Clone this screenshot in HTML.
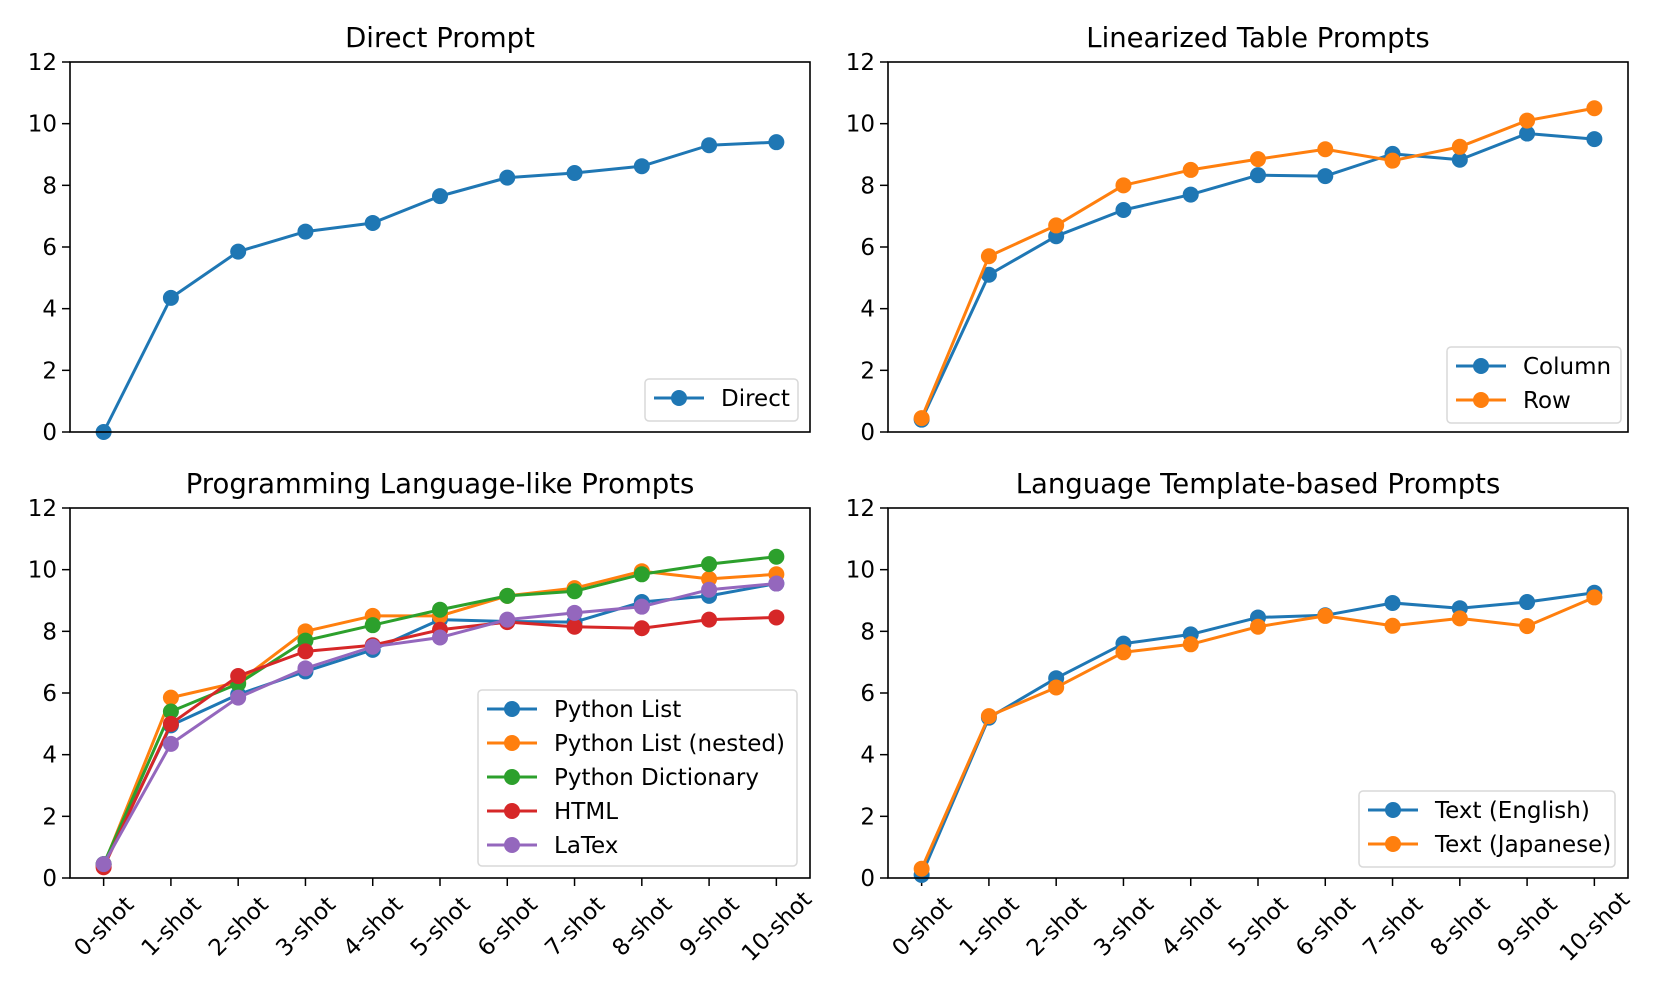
<!DOCTYPE html>
<html><head><meta charset="utf-8"><style>
html,body{margin:0;padding:0;background:#fff;}
svg{display:block;font-family:"DejaVu Sans","Liberation Sans",sans-serif;}
</style></head><body>
<svg id="fig" width="1661" height="997" viewBox="0 0 1661 997" xmlns="http://www.w3.org/2000/svg"></svg>
<script>
const categories = ["0-shot","1-shot","2-shot","3-shot","4-shot","5-shot","6-shot","7-shot","8-shot","9-shot","10-shot"];
const yTicks = [0,2,4,6,8,10,12];
const directVals = [0,4.35,5.85,6.5,6.78,7.65,8.25,8.4,8.62,9.3,9.4];
const columnVals = [0.4,5.1,6.35,7.2,7.7,8.33,8.3,9.02,8.83,9.68,9.5];
const rowVals = [0.45,5.7,6.7,8.0,8.5,8.85,9.17,8.8,9.25,10.1,10.5];
const pyListVals = [0.45,4.95,5.95,6.7,7.4,8.38,8.32,8.3,8.95,9.15,9.55];
const pyNestedVals = [0.4,5.85,6.35,8.0,8.5,8.5,9.15,9.4,9.95,9.7,9.85];
const pyDictVals = [0.45,5.4,6.3,7.7,8.2,8.7,9.15,9.3,9.85,10.18,10.42];
const htmlVals = [0.35,5.0,6.55,7.35,7.55,8.05,8.3,8.15,8.1,8.38,8.45];
const latexVals = [0.45,4.35,5.85,6.8,7.5,7.8,8.38,8.6,8.8,9.35,9.55];
const englishVals = [0.1,5.2,6.48,7.6,7.9,8.45,8.52,8.92,8.75,8.95,9.25];
const japaneseVals = [0.3,5.25,6.18,7.32,7.58,8.15,8.5,8.18,8.42,8.17,9.1];

const NS="http://www.w3.org/2000/svg";
const svg=document.getElementById('fig');
function mk(tag,attrs,parent){const e=document.createElementNS(NS,tag);for(const k in attrs)e.setAttribute(k,attrs[k]);(parent||svg).appendChild(e);return e;}

const panels=[
 {name:'direct-prompt',title:'Direct Prompt',x:70,y:62,xlabels:false,
  series:[{name:'Direct',vals:directVals,color:'#1f77b4'}],legend:{x:645,y:379,w:153,h:42}},
 {name:'linearized-table',title:'Linearized Table Prompts',x:888,y:62,xlabels:false,
  series:[{name:'Column',vals:columnVals,color:'#1f77b4'},{name:'Row',vals:rowVals,color:'#ff7f0e'}],legend:{x:1447,y:347,w:174,h:76}},
 {name:'programming-language',title:'Programming Language-like Prompts',x:70,y:508,xlabels:true,
  series:[{name:'Python List',vals:pyListVals,color:'#1f77b4'},{name:'Python List (nested)',vals:pyNestedVals,color:'#ff7f0e'},{name:'Python Dictionary',vals:pyDictVals,color:'#2ca02c'},{name:'HTML',vals:htmlVals,color:'#d62728'},{name:'LaTex',vals:latexVals,color:'#9467bd'}],legend:{x:478,y:690,w:319,h:176}},
 {name:'language-template',title:'Language Template-based Prompts',x:888,y:508,xlabels:true,
  series:[{name:'Text (English)',vals:englishVals,color:'#1f77b4'},{name:'Text (Japanese)',vals:japaneseVals,color:'#ff7f0e'}],legend:{x:1359,y:791,w:256,h:76}}
];
const W=740,H=370;
panels.forEach(p=>{
  const g=mk('g',{});
  
  
  const xs=i=>p.x+W*(i+0.5)/11;
  const ys=v=>p.y+H-H*v/12;
  const t=mk('text',{x:p.x+W/2,y:p.y-15,'text-anchor':'middle','font-size':27.5,fill:'#000'},g);
  t.textContent=p.title;
  
  
  yTicks.forEach(v=>{
    mk('line',{x1:p.x-8,x2:p.x,y1:ys(v),y2:ys(v),stroke:'#000','stroke-width':1.5},g);
    const tl=mk('text',{x:p.x-13,y:ys(v)+8,'text-anchor':'end','font-size':23,fill:'#000'},g);
    tl.textContent=v;
    
    
  });
  if(p.xlabels){
    categories.forEach((c,i)=>{
      mk('line',{x1:xs(i),x2:xs(i),y1:p.y+H,y2:p.y+H+8,stroke:'#000','stroke-width':1.5},g);
      const cx=xs(i),cy=p.y+H+48;
      const xl=mk('text',{x:cx,y:cy+8,'text-anchor':'middle','font-size':23,fill:'#000',transform:`rotate(-45 ${cx} ${cy})`},g);
      xl.textContent=c;
      
      
    });
  }
  p.series.forEach(s=>{
    const sg=mk('g',{},g);
    
    
    mk('polyline',{points:s.vals.map((v,i)=>xs(i)+','+ys(v)).join(' '),fill:'none',stroke:s.color,'stroke-width':3,'stroke-linejoin':'round'},sg);
    s.vals.forEach((v,i)=>{
      const c=mk('circle',{cx:xs(i),cy:ys(v),r:8,fill:s.color},sg);
      
      
    });
  });
  const frame=mk('rect',{x:p.x,y:p.y,width:W,height:H,fill:'none',stroke:'#000','stroke-width':1.6},g);
  
  
  const L=p.legend;
  const lg=mk('g',{},g);
  
  
  mk('rect',{x:L.x,y:L.y,width:L.w,height:L.h,rx:4,fill:'#fff','fill-opacity':0.8,stroke:'#d9d9d9','stroke-width':1.5},lg);
  p.series.forEach((s,k)=>{
    const cy=L.y+19+34*k;
    const e=mk('g',{},lg);
    
    
    mk('line',{x1:L.x+9,x2:L.x+59,y1:cy,y2:cy,stroke:s.color,'stroke-width':3},e);
    mk('circle',{cx:L.x+34,cy:cy,r:8,fill:s.color},e);
    const lt=mk('text',{x:L.x+76,y:cy+8,'font-size':23,fill:'#000'},e);
    lt.textContent=s.name;
  });
});
</script>
</body></html>
